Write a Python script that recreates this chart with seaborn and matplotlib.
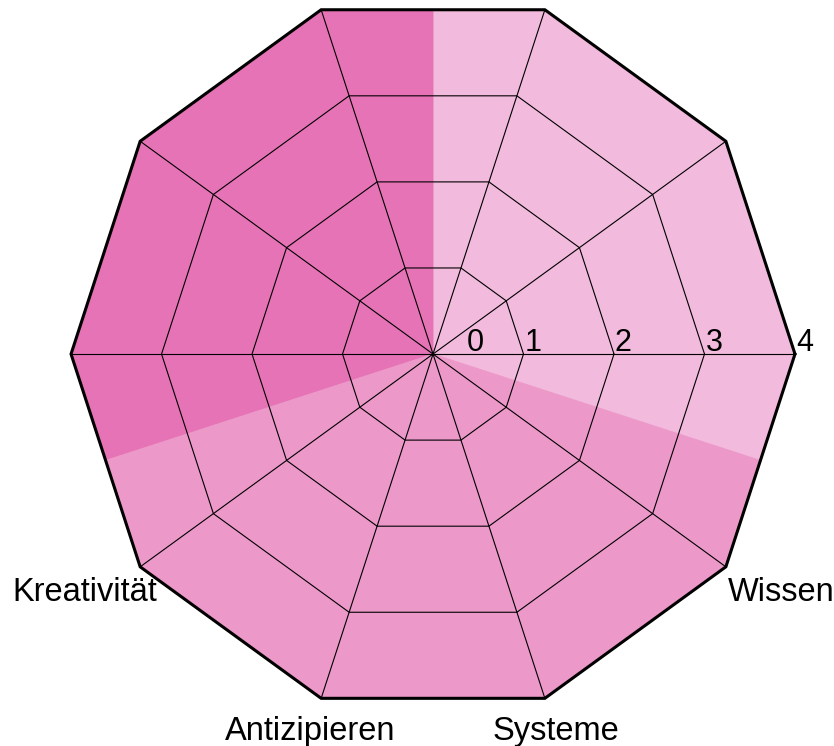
import numpy as np
import seaborn as sns
import matplotlib.pyplot as plt

# data: 10 axes at 36 deg steps, all filled to the max
categories = ["", "", "", "", "", "", "Kreativität", "Antizipieren", "Systeme", "Wissen"]
values = [4, 4, 4, 4, 4, 4, 4, 4, 4, 4]
groups = ["hell", "hell", "hell", "dunkel", "dunkel", "dunkel", "mittel", "mittel", "mittel", "mittel"]
group_colors = {"hell": "#F2BADC", "mittel": "#EC98C9", "dunkel": "#E673B6"}
ticks = [0, 1, 2, 3, 4]

sns.set_theme(style="white")
plt.rcParams['font.family'] = ['Liberation Sans', 'DejaVu Sans']
plt.rcParams['text.color'] = 'black'

fig = plt.figure(figsize=(8.34, 7.46), dpi=100)
ax = fig.add_axes([0, 0, 1, 1])
ax.set_xlim(-4.785, 4.431)
ax.set_ylim(-4.331, 3.912)
ax.axis("off")

n = len(categories)
step = 2 * np.pi / n
angles = np.arange(n) * step
half = step / 2

# wedges
for a, v, g in zip(angles, values, groups):
    ang = [a - half, a, a + half]
    rr = [v * np.cos(half), v, v * np.cos(half)]
    xs = [0] + [r * np.cos(t) for r, t in zip(rr, ang)]
    ys = [0] + [r * np.sin(t) for r, t in zip(rr, ang)]
    ax.fill(xs, ys, facecolor=group_colors[g], edgecolor=group_colors[g], lw=0.6, zorder=1)

# grid rings
ring = np.append(angles, angles[0])
for r in ticks[1:]:
    outer = r == ticks[-1]
    ax.plot(r * np.cos(ring), r * np.sin(ring), color="black", lw=2.2 if outer else 0.8,
            zorder=3 if outer else 2, solid_joinstyle="miter")

# spokes
for a in angles:
    ax.plot([0, ticks[-1] * np.cos(a)], [0, ticks[-1] * np.sin(a)], color="black", lw=0.8, zorder=2)

# radial tick labels
for t in ticks:
    ax.text(max(t, 0.36) + 0.01, 0.03, str(t), ha="left", va="baseline", fontsize=22, zorder=4)

# category labels
for a, lab in zip(angles, categories):
    if not lab:
        continue
    side = abs(np.sin(a)) < 0.7
    rl = 4.62 if side else 4.38
    dx = 0.11 * np.sign(np.cos(a)) if side else 0
    ax.text(rl * np.cos(a) + dx, rl * np.sin(a) + (0.08 if side else 0), lab,
            ha="center", va="center", fontsize=23.5)

plt.savefig("out.png", dpi=100)
